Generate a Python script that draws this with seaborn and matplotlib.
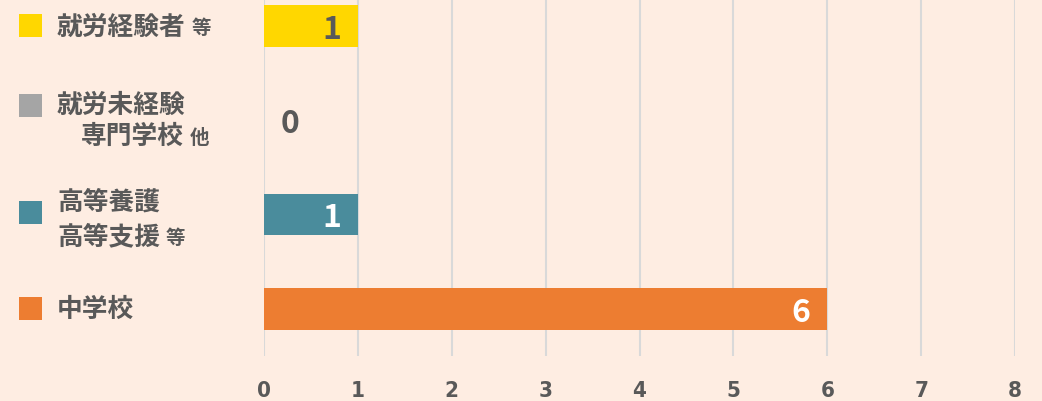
import matplotlib
matplotlib.use("Agg")
import matplotlib.pyplot as plt
import matplotlib.transforms as mtransforms
from matplotlib.patches import Rectangle
import seaborn as sns
import pandas as pd

# ---- data ----
categories = ["就労経験者 等", "就労未経験 専門学校 他", "高等養護 高等支援 等", "中学校"]
values = [1, 0, 1, 6]
colors = ["#FFD700", "#A5A5A5", "#4A8C9C", "#ED7D31"]
label_lines = [
    [("就労経験者", "等")],
    [("就労未経験", ""), ("専門学校", "他")],
    [("高等養護", ""), ("高等支援", "等")],
    [("中学校", "")],
]
value_text_colors = ["#595959", "#595959", "white", "white"]
xticks = [0, 1, 2, 3, 4, 5, 6, 7, 8]

BG = "#FEEDE2"
TXT = "#595959"

sns.set_theme(style="white")
plt.rcParams["font.family"] = ["Noto Sans CJK JP", "DejaVu Sans"]

fig = plt.figure(figsize=(10.42, 4.02), dpi=100, facecolor=BG)
ax = fig.add_axes([264 / 1042, 1 - 357 / 402, (1015 - 264) / 1042, 357 / 402])
ax.set_facecolor(BG)

df = pd.DataFrame({"cat": categories, "val": values})
sns.barplot(data=df, x="val", y="cat", hue="cat", palette=colors, order=categories,
            hue_order=categories, orient="h", width=0.44, legend=False, ax=ax,
            saturation=1, zorder=3, linewidth=0)

ax.set_xlim(0, 8)
ax.set_ylim(3.5, -0.285)
ax.set_xticks(xticks)
ax.xaxis.grid(True, color="#D9D9D9", linewidth=1.5, zorder=0)
ax.set_axisbelow(True)
for s in ax.spines.values():
    s.set_visible(False)
ax.set_yticks([])
ax.set_xlabel("")
ax.set_ylabel("")
ax.tick_params(axis="x", length=0, pad=17, labelsize=16, labelcolor=TXT)
for lab in ax.get_xticklabels():
    lab.set_fontweight("bold")
    lab.set_family(["DejaVu Sans"])
    lab.set_stretch("condensed")

# value labels
for i, v in enumerate(values):
    if v > 0:
        ax.text(v - 0.18, i + 0.03, str(v), ha="right", va="center", fontsize=23,
                fontweight="bold", color=value_text_colors[i], zorder=5)
    else:
        ax.text(0.28, i + 0.03, str(v), ha="center", va="center", fontsize=23,
                fontweight="bold", color=value_text_colors[i], zorder=5)

# left legend-like labels
trans = mtransforms.blended_transform_factory(fig.transFigure, ax.transData)
px = 1 / 1042
unit = 1 / 94.7
for i, lines in enumerate(label_lines):
    n = len(lines)
    if i == 1:
        sq_y = i - 0.16
    elif i == 2:
        sq_y = i - 0.02
    else:
        sq_y = i
    h = 23 * unit
    fig.patches.append(Rectangle((19 * px, sq_y - h / 2), 23 * px, h, transform=trans,
                                 facecolor=colors[i], edgecolor="none"))
    for j, (main, suffix) in enumerate(lines):
        if n == 1:
            y = i
        elif i == 1:
            y = i - 0.17 + j * 0.33
        else:
            y = i - 0.14 + j * 0.36
        x0 = 57 if not (i == 1 and j == 1) else 81
        t = fig.text(x0 * px, y, main, transform=trans, ha="left", va="center",
                     fontsize=18.5, fontweight="bold", color=TXT)
        if suffix:
            fig.canvas.draw()
            bb = t.get_window_extent()
            fig.text((bb.x1 + 6) / 1042, y + 0.02, suffix, transform=trans, ha="left",
                     va="center", fontsize=14, fontweight="bold", color=TXT)

fig.savefig("out.png", dpi=100, facecolor=BG)
